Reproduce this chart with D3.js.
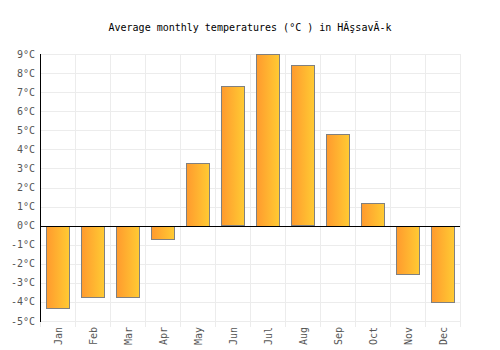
<!DOCTYPE html>
<html>
<head>
<meta charset="utf-8">
<script src="https://cdn.jsdelivr.net/npm/d3@7"></script>
<style>
body { margin: 0; background: #fff; }
text { font-family: "DejaVu Sans Mono", monospace; }
</style>
</head>
<body>
<svg width="500" height="350"></svg>
<script>
var months = ["Jan", "Feb", "Mar", "Apr", "May", "Jun", "Jul", "Aug", "Sep", "Oct", "Nov", "Dec"];
var temps = [-4.3, -3.7, -3.7, -0.7, 3.3, 7.3, 9.0, 8.4, 4.8, 1.2, -2.5, -4.0];
var ticks = [-5, -4, -3, -2, -1, 0, 1, 2, 3, 4, 5, 6, 7, 8, 9];

var svg = d3.select("svg"),
    width = +svg.attr("width"),
    height = +svg.attr("height");

var plotLeft = 40, plotRight = 460, plotTop = 54, plotBottom = 321;

var x = d3.scaleBand().domain(months).range([plotLeft, plotRight]).paddingInner(0.34).paddingOuter(0.17);
var y = d3.scaleLinear().domain([-5, 9]).range([plotBottom, plotTop]);

var defs = svg.append("defs");
var grad = defs.append("linearGradient").attr("id", "barGrad")
    .attr("x1", 0).attr("y1", 0).attr("x2", "100%").attr("y2", 0);
grad.append("stop").attr("offset", "0%").attr("stop-color", "#ff9a2e");
grad.append("stop").attr("offset", "100%").attr("stop-color", "#ffcb33");

// grid
svg.append("g").selectAll("line").data(ticks).enter().append("line")
    .attr("x1", plotLeft).attr("x2", plotRight)
    .attr("y1", function(d) { return Math.round(y(d)) + 0.5; })
    .attr("y2", function(d) { return Math.round(y(d)) + 0.5; })
    .attr("stroke", "#ececec");

var step = x.step();
svg.append("g").selectAll("line").data(d3.range(months.length + 1)).enter().append("line")
    .attr("x1", function(i) { return Math.round(plotLeft + i * step) + 0.5; })
    .attr("x2", function(i) { return Math.round(plotLeft + i * step) + 0.5; })
    .attr("y1", plotTop).attr("y2", plotBottom + 6)
    .attr("stroke", "#ececec");

// bars
svg.append("g").selectAll("rect").data(temps).enter().append("rect")
    .attr("x", function(d, i) { return Math.round(x(months[i])) + 0.5; })
    .attr("width", Math.round(x.bandwidth()))
    .attr("y", function(d) { return Math.round(y(Math.max(0, d))) + 0.5; })
    .attr("height", function(d) { return Math.round(Math.abs(y(d) - y(0))); })
    .attr("fill", "url(#barGrad)")
    .attr("stroke", "#808080")
    .attr("stroke-width", 1);

// zero line
svg.append("line")
    .attr("x1", plotLeft).attr("x2", plotRight)
    .attr("y1", Math.round(y(0)) + 0.5).attr("y2", Math.round(y(0)) + 0.5)
    .attr("stroke", "#000");

// y axis
svg.append("line")
    .attr("x1", plotLeft + 0.5).attr("x2", plotLeft + 0.5)
    .attr("y1", plotTop).attr("y2", plotBottom + 1)
    .attr("stroke", "#000");

svg.append("g").selectAll("text").data(ticks).enter().append("text")
    .attr("x", plotLeft - 5)
    .attr("y", function(d) { return y(d); })
    .attr("dy", "0.35em")
    .attr("text-anchor", "end")
    .attr("font-size", 10)
    .attr("fill", "#555")
    .text(function(d) { return d + "°C"; });

// x labels
svg.append("g").selectAll("text").data(months).enter().append("text")
    .attr("transform", function(d) { return "translate(" + (x(d) + x.bandwidth() / 2 + 1) + "," + (plotBottom + 6) + ") rotate(-90)"; })
    .attr("dy", "0.35em")
    .attr("text-anchor", "end")
    .attr("font-size", 10)
    .attr("fill", "#555")
    .text(function(d) { return d; });

// title
svg.append("text")
    .attr("x", width / 2)
    .attr("y", 31)
    .attr("text-anchor", "middle")
    .attr("font-size", 10)
    .attr("fill", "#000")
    .text("Average monthly temperatures (°C ) in HĂşsavĂ-k");
</script>
</body>
</html>
